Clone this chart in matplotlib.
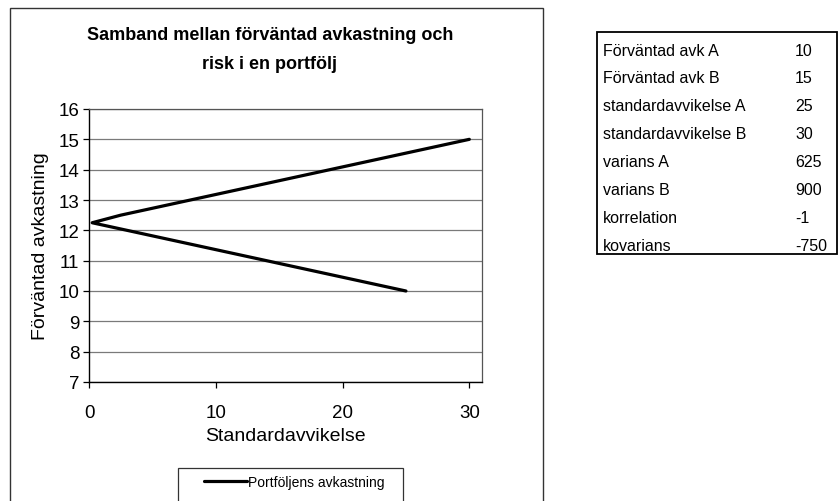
import matplotlib
matplotlib.use("Agg")
import matplotlib.pyplot as plt
from matplotlib.patches import Rectangle

plt.rcParams['font.family'] = ['Liberation Sans', 'DejaVu Sans']

# Portfolio points (standard deviation, expected return)
std_dev = [30, 24.5, 19, 13.5, 8, 2.5, 0.25, 3, 8.5, 14, 19.5, 25]
exp_ret = [15, 14.5, 14, 13.5, 13, 12.5, 12.25, 12, 11.5, 11, 10.5, 10]

x_ticks = [0, 10, 20, 30]
y_ticks = [7, 8, 9, 10, 11, 12, 13, 14, 15, 16]

title = "Samband mellan förväntad avkastning och\nrisk i en portfölj"
x_label = "Standardavvikelse"
y_label = "Förväntad avkastning"
series_name = "Portföljens avkastning"

table_labels = ["Förväntad avk A", "Förväntad avk B", "standardavvikelse A",
                "standardavvikelse B", "varians A", "varians B",
                "korrelation", "kovarians"]
table_values = ["10", "15", "25", "30", "625", "900", "-1", "-750"]

W, H = 838, 502
fig = plt.figure(figsize=(W / 100, H / 100), dpi=100)
fig.patch.set_facecolor("white")

def fx(px):
    return px / W

def fy(py):
    return 1 - py / H

# Outer chart frame
fig.patches.append(Rectangle((fx(10), fy(520)), fx(543) - fx(10), fy(9) - fy(520),
                             transform=fig.transFigure, fill=False,
                             edgecolor="#333333", linewidth=1.0))

# Axes
ax_l, ax_r, ax_t, ax_b = 89, 482, 110, 383
ax = fig.add_axes([fx(ax_l), fy(ax_b), fx(ax_r) - fx(ax_l), fy(ax_t) - fy(ax_b)])
ax.plot(std_dev, exp_ret, color="black", linewidth=2.3, solid_joinstyle="round",
        solid_capstyle="round", label=series_name, zorder=3)
ax.set_xlim(0, 31)
ax.set_ylim(7, 16)
ax.set_xticks(x_ticks)
ax.set_yticks(y_ticks)
ax.yaxis.grid(True, color="#7a7a7a", linewidth=0.9)
ax.set_axisbelow(True)
for s in ["top", "right"]:
    ax.spines[s].set_color("#555555")
    ax.spines[s].set_linewidth(0.9)
for s in ["left", "bottom"]:
    ax.spines[s].set_color("black")
    ax.spines[s].set_linewidth(1.0)
ax.tick_params(axis="both", labelsize=13.5, length=4, width=0.9, direction="out")
ax.tick_params(axis="x", pad=12)
ax.tick_params(axis="y", pad=3)
ax.set_xlabel(x_label, fontsize=14, labelpad=4)
ax.set_ylabel(y_label, fontsize=14, labelpad=7)

# Title
fig.text(fx(270), fy(50), title, ha="center", va="center", fontsize=13,
         fontweight="bold", linespacing=1.95)

# Legend
handles, labels = ax.get_legend_handles_labels()
leg = fig.legend(handles, labels, loc="center left",
                 bbox_to_anchor=(fx(204), fy(483)), frameon=False,
                 fontsize=10, handlelength=3.1, handletextpad=0.05,
                 borderpad=0, borderaxespad=0)
for ln in leg.get_lines():
    ln.set_linewidth(2.3)
fig.patches.append(Rectangle((fx(178), fy(520)), fx(403) - fx(178), fy(469) - fy(520),
                             transform=fig.transFigure, fill=False,
                             edgecolor="#333333", linewidth=0.9))

# Parameter table
tb_l, tb_r, tb_t, tb_b = 597, 837, 33, 255
fig.patches.append(Rectangle((fx(tb_l), fy(tb_b)), fx(tb_r) - fx(tb_l), fy(tb_t) - fy(tb_b),
                             transform=fig.transFigure, fill=False,
                             edgecolor="black", linewidth=1.3))
row0, step = 51, 27.9
for i, (lab, val) in enumerate(zip(table_labels, table_values)):
    y = row0 + i * step
    fig.text(fx(603), fy(y), lab, ha="left", va="center", fontsize=11.5)
    fig.text(fx(795), fy(y), val, ha="left", va="center", fontsize=11.5)

fig.savefig("out.png", dpi=100, facecolor="white")
